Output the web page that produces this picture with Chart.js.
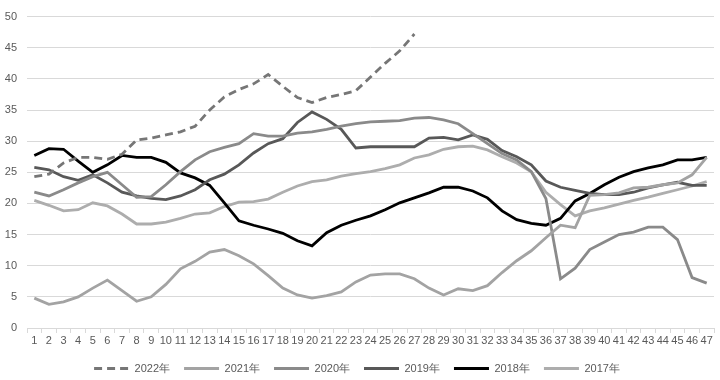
<!DOCTYPE html>
<html>
<head>
<meta charset="UTF-8"/>
<script src="https://cdn.jsdelivr.net/npm/chart.js@4.4.3/dist/chart.umd.min.js"></script>
<style>
  *{margin:0;padding:0;box-sizing:border-box}
  body{background:#fff;width:720px;height:380px;overflow:hidden}
  #wrap{position:relative;width:720px;height:380px}
</style>
</head>
<body>
<div id="wrap"><canvas id="c" width="720" height="380"></canvas></div>
<script>
// ─── Data ────────────────────────────────────────────────────────────────────
const weeks = ['1','2','3','4','5','6','7','8','9','10','11','12','13','14','15','16',
  '17','18','19','20','21','22','23','24','25','26','27','28','29','30','31','32',
  '33','34','35','36','37','38','39','40','41','42','43','44','45','46','47'];

const y2022 = [24.3, 24.7, 26.5, 27.4, 27.4, 27.1, 27.9, 30.2, 30.5, 31, 31.5, 32.4, 35, 37.1,
  38.3, 39.2, 40.7, 38.8, 37, 36.2, 37, 37.5, 38.1, 40.3, 42.5, 44.5, 47.2];
const y2021 = [4.8, 3.8, 4.2, 5, 6.4, 7.7, 6, 4.3, 5, 7, 9.5, 10.7, 12.2, 12.6, 11.6, 10.3,
  8.4, 6.4, 5.3, 4.8, 5.2, 5.8, 7.4, 8.5, 8.7, 8.7, 7.9, 6.4, 5.3, 6.3, 6, 6.8, 8.9, 10.8,
  12.4, 14.5, 16.5, 16.1, 21.3, 21.4, 21.7, 22.5, 22.6, 23, 23.3, 24.6, 27.4];
const y2020 = [21.8, 21.2, 22.2, 23.3, 24.3, 25, 23, 21, 21.1, 23, 25.1, 27, 28.3, 29, 29.6,
  31.2, 30.8, 30.8, 31.3, 31.5, 31.9, 32.4, 32.8, 33.1, 33.2, 33.3, 33.7, 33.8, 33.4, 32.8,
  31.2, 29.6, 28, 27, 25.1, 20.8, 7.9, 9.6, 12.6, 13.8, 15, 15.4, 16.2, 16.2, 14.2, 8.1, 7.2];
const y2019 = [25.8, 25.4, 24.3, 23.7, 24.6, 23.3, 21.8, 21.2, 20.8, 20.6, 21.2, 22.2, 23.8,
  24.7, 26.2, 28.1, 29.6, 30.4, 33, 34.7, 33.5, 31.9, 28.9, 29.1, 29.1, 29.1, 29.1, 30.5,
  30.6, 30.2, 31, 30.3, 28.5, 27.5, 26.2, 23.6, 22.6, 22.1, 21.6, 21.4, 21.4, 21.8, 22.5,
  23, 23.4, 22.9, 22.9];
const y2018 = [27.7, 28.8, 28.7, 26.8, 25, 26.2, 27.7, 27.4, 27.4, 26.6, 24.9, 24.1, 22.9,
  20.1, 17.2, 16.5, 15.9, 15.2, 14, 13.2, 15.3, 16.5, 17.3, 18, 19, 20.1, 20.9, 21.7, 22.6,
  22.6, 22, 20.9, 18.8, 17.4, 16.8, 16.5, 17.6, 20.4, 21.6, 23, 24.2, 25.1, 25.7, 26.2, 27,
  27, 27.4];
const y2017 = [20.5, 19.7, 18.8, 19, 20.1, 19.6, 18.3, 16.7, 16.7, 17, 17.6, 18.3, 18.5, 19.5,
  20.2, 20.3, 20.7, 21.8, 22.8, 23.5, 23.8, 24.4, 24.8, 25.1, 25.6, 26.2, 27.3, 27.8, 28.7,
  29.1, 29.2, 28.6, 27.5, 26.5, 25.1, 21.8, 19.8, 18, 18.8, 19.3, 19.9, 20.5, 21, 21.6,
  22.2, 22.8, 23.5];

const yTicks = [0, 5, 10, 15, 20, 25, 30, 35, 40, 45, 50];

// ─── Chart ────────────────────────────────────────────────────────────────────
function line(label, data, color, dash) {
  return { label, data, borderColor: color, backgroundColor: color, borderWidth: 2.8,
    borderDash: dash || [], pointRadius: 0, tension: 0, fill: false };
}

const FONT = { family: "'Liberation Sans', Arial, sans-serif", size: 11 };

// legend swatches taken from the line itself (dash + width), not from the points
function legendLabels(chart) {
  return chart.data.datasets.map((ds, i) => ({
    text: ds.label, datasetIndex: i, hidden: false,
    fillStyle: ds.borderColor, strokeStyle: ds.borderColor,
    lineWidth: 3.2, lineDash: ds.borderDash, lineCap: 'butt',
    pointStyle: 'line', fontColor: '#595959'
  }));
}

new Chart(document.getElementById('c'), {
  type: 'line',
  data: {
    labels: weeks,
    datasets: [
      line('2022年', y2022, '#767676', [8, 5]),
      line('2021年', y2021, '#a3a3a3'),
      line('2020年', y2020, '#8a8a8a'),
      line('2019年', y2019, '#585858'),
      line('2018年', y2018, '#000000'),
      line('2017年', y2017, '#adadad'),
    ]
  },
  options: {
    responsive: false,
    animation: false,
    layout: { padding: { top: 8, right: 6, left: 0, bottom: -4 } },
    plugins: {
      tooltip: { enabled: false },
      legend: {
        position: 'bottom',
        labels: {
          usePointStyle: true, pointStyle: 'line', pointStyleWidth: 35,
          boxHeight: 10, padding: 14, color: '#595959', font: FONT,
          generateLabels: legendLabels
        }
      }
    },
    scales: {
      x: {
        offset: true,
        grid: { offset: true, drawOnChartArea: false, drawTicks: true, tickLength: 5, color: '#d9d9d9' },
        border: { color: '#d9d9d9' },
        ticks: { color: '#595959', font: FONT, autoSkip: false, maxRotation: 0, padding: 1 },
        afterFit: s => { s.height = 21; }
      },
      y: {
        min: 0, max: 50,
        afterBuildTicks: s => { s.ticks = yTicks.map(v => ({ value: v })); },
        grid: { color: '#d9d9d9', drawTicks: false },
        border: { display: false },
        ticks: { color: '#595959', font: FONT, padding: 10 },
        afterFit: s => { s.width = 27; }
      }
    }
  }
});
</script>
</body>
</html>
